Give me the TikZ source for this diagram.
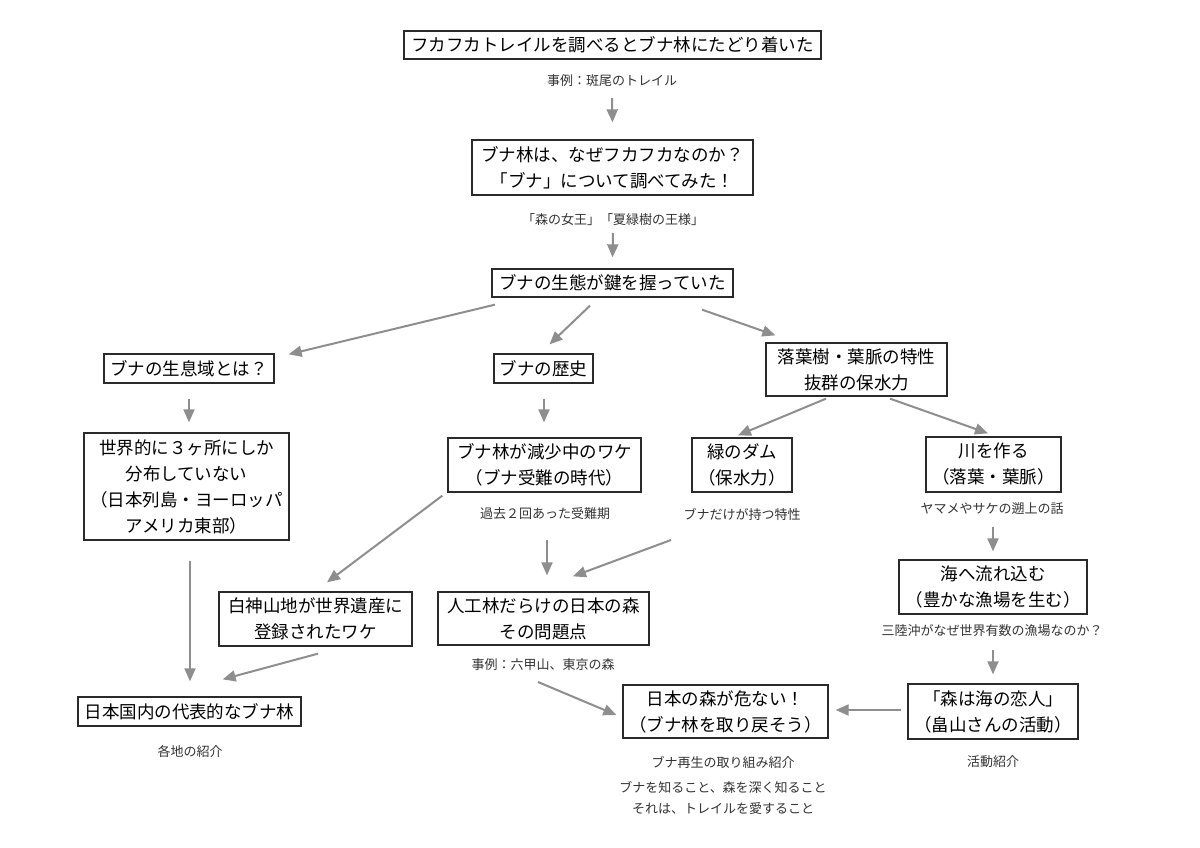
\documentclass[tikz,border=0pt]{standalone}
\usepackage{fontspec}
\setmainfont{Noto Sans CJK JP}
\usepackage{tikz}
\usetikzlibrary{arrows.meta,calc}
\usepackage{xcolor}
\definecolor{arrowgray}{HTML}{8E8E8E}
\definecolor{boxline}{HTML}{2A2A2A}

\begin{document}
\begin{tikzpicture}[
    x=1pt, y=-1pt,
    box/.style={draw=boxline, line width=1.3pt, inner sep=2pt, align=center, font=\fontsize{17.5}{26}\selectfont},
    note/.style={inner sep=2pt, align=center, font=\fontsize{13}{21}\selectfont, text=black!80},
    flow/.style={draw=arrowgray, line width=2pt, -{Triangle[length=13pt,width=11pt]}}
]
\fill[white] (0,0) rectangle (1200,848);

\node[box, minimum width=417, minimum height=28] (trail) at (612.5,45) {フカフカトレイルを調べるとブナ林にたどり着いた};
\node[note] (extrail) at (612,81) {事例：斑尾のトレイル};

\node[box, minimum width=281, minimum height=55] (why) at (612.5,167.5) {ブナ林は、なぜフカフカなのか？\\「ブナ」について調べてみた！};
\node[note] (exwhy) at (613,220) {「森の女王」「夏緑樹の王様」};

\node[box, minimum width=241, minimum height=28] (eco) at (612.5,283) {ブナの生態が鍵を握っていた};

\node[box, minimum width=170, minimum height=29] (habitat) at (189,368.5) {ブナの生息域とは？};
\node[box, minimum width=99, minimum height=29] (history) at (543.5,368.5) {ブナの歴史};
\node[box, minimum width=181, minimum height=53] (leaves) at (856.5,369.5) {落葉樹・葉脈の特性\\抜群の保水力};

\node[box, minimum width=205, minimum height=107] (dist) at (186.5,486.5) {世界的に３ヶ所にしか\\分布していない\\（日本列島・ヨーロッパ\\アメリカ東部）};
\node[box, minimum width=193, minimum height=54] (decline) at (544.5,465) {ブナ林が減少中のワケ\\（ブナ受難の時代）};
\node[note] (exdecline) at (545,514) {過去２回あった受難期};
\node[box, minimum width=100, minimum height=54] (greendam) at (742,465) {緑のダム\\（保水力）};
\node[note] (exdam) at (742,514) {ブナだけが持つ特性};
\node[box, minimum width=135, minimum height=55] (river) at (993.5,464.5) {川を作る\\（落葉・葉脈）};
\node[note] (exriver) at (992,509) {ヤマメやサケの遡上の話};

\node[box, minimum width=193, minimum height=54] (shirakami) at (315.5,619) {白神山地が世界遺産に\\登録されたワケ};
\node[box, minimum width=211, minimum height=53] (plant) at (543.5,618.5) {人工林だらけの日本の森\\その問題点};
\node[note] (explant) at (543,665) {事例：六甲山、東京の森};
\node[box, minimum width=188, minimum height=54] (sea) at (993,587) {海へ流れ込む\\（豊かな漁場を生む）};
\node[note] (exsea) at (992,631) {三陸沖がなぜ世界有数の漁場なのか？};

\node[box, minimum width=223, minimum height=29] (japan) at (189.5,711.5) {日本国内の代表的なブナ林};
\node[note] (exjapan) at (190,752) {各地の紹介};
\node[box, minimum width=205, minimum height=53] (danger) at (725.5,711.5) {日本の森が危ない！\\（ブナ林を取り戻そう）};
\node[note] (exdanger) at (723,762) {ブナ再生の取り組み紹介};
\node[note] (motto) at (723,798) {ブナを知ること、森を深く知ること\\それは、トレイルを愛すること};
\node[box, minimum width=170, minimum height=55] (lovers) at (993,711.5) {「森は海の恋人」\\（畠山さんの活動）};
\node[note] (exlovers) at (993,762) {活動紹介};

\draw[flow] ([shift={(0,17)}]extrail.center) -- ([shift={(0,-17)}]why.north);
\draw[flow] ([shift={(0,13)}]exwhy.center) -- ([shift={(0,-11)}]eco.north);
\draw[flow] ([shift={(-117.5,7)}]eco.south) -- ([shift={(14,1)}]habitat.north east);
\draw[flow] ([shift={(-22.5,8)}]eco.south) -- ([shift={(6,-9)}]history.north);
\draw[flow] ([shift={(89.5,12)}]eco.south) -- ([shift={(10,-7)}]leaves.north west);
\draw[flow] ([shift={(0,15)}]habitat.south) -- ([shift={(2.5,-10)}]dist.north);
\draw[flow] ([shift={(0.5,15)}]history.south) -- ([shift={(-0.5,-15)}]decline.north);
\draw[flow] ([shift={(-30.5,2)}]leaves.south) -- ([shift={(-4,-2)}]greendam.north);
\draw[flow] ([shift={(33.5,2)}]leaves.south) -- ([shift={(-5.5,-3)}]river.north);
\draw[flow] ([shift={(1,18)}]exriver.center) -- ([shift={(0,-8)}]sea.north);
\draw[flow] ([shift={(1,19)}]exsea.center) -- ([shift={(0,-9)}]lovers.north);
\draw[flow] ([shift={(-6,-1.5)}]lovers.west) -- ([shift={(7,-1.5)}]danger.east);
\draw[flow] ([shift={(3.5,20)}]dist.south) -- ([shift={(0.5,-15)}]japan.north);
\draw[flow] ([shift={(-5,3)}]decline.south west) -- ([shift={(11.5,-9)}]shirakami.north);
\draw[flow] ([shift={(2,26)}]exdecline.center) -- ([shift={(3.5,-16)}]plant.north);
\draw[flow] ([shift={(-71,26)}]exdam.center) -- ([shift={(29.5,-15)}]plant.north);
\draw[flow] ([shift={(2.5,7)}]shirakami.south) -- ([shift={(-79,-17)}]japan.north east);
\draw[flow] ([shift={(-5,17)}]explant.center) -- ([shift={(-6,3.5)}]danger.west);
\end{tikzpicture}
\end{document}
